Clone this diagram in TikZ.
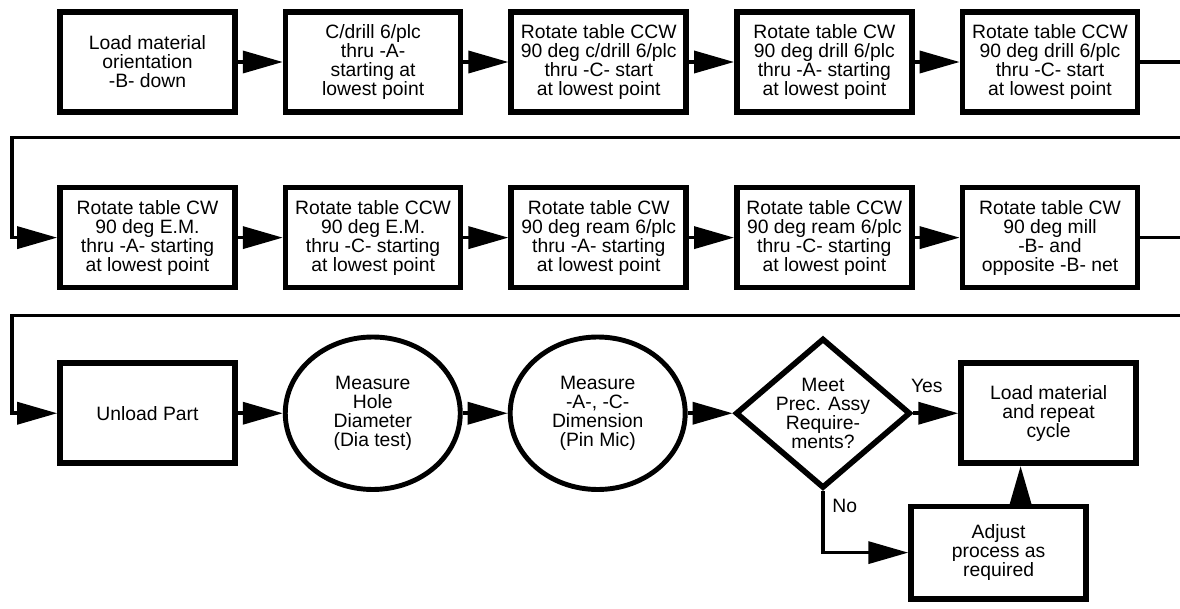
\documentclass[tikz,border=0pt]{standalone}
\usepackage{fontspec}
\setmainfont{Liberation Sans}
\usetikzlibrary{arrows.meta,positioning,shapes.geometric,calc}

\begin{document}
\begin{tikzpicture}[
        node distance=0.9cm,
        >={Triangle[length=8mm,width=4.4mm]},
        every node/.style={font=\fontsize{11}{10.8}\selectfont},
        stage/.style={
            draw=black,
            line width=3.2pt,
            align=center,
            minimum width=3.5cm,
            minimum height=2cm,
            inner sep=2pt,
            fill=white
        },
        measure/.style={
            ellipse,
            draw=black,
            line width=2.8pt,
            align=center,
            minimum width=3.5cm,
            minimum height=3.05cm,
            inner sep=0pt
        },
        check/.style={
            diamond,
            draw=black,
            line width=3.2pt,
            align=center,
            aspect=1.19,
            minimum width=3.5cm,
            minimum height=3cm,
            inner sep=-2pt
        },
        arrow/.style={->, line width=2pt, draw=black}
    ]
        \useasboundingbox (0,0) rectangle (23.6,-12.18);

        % row 1
        \node[stage] (b1) at (2.95,-1.24) {Load material\\orientation\\-B- down};
        \node[stage, right=of b1] (b2) {C/drill 6/plc\\thru -A-\\starting at\\lowest point};
        \node[stage, right=of b2] (b3) {Rotate table CCW\\90 deg c/drill 6/plc\\thru -C- start\\at lowest point};
        \node[stage, right=of b3] (b4) {Rotate table CW\\90 deg drill 6/plc\\thru -A- starting\\at lowest point};
        \node[stage, right=of b4] (b5) {Rotate table CCW\\90 deg drill 6/plc\\thru -C- start\\at lowest point};

        % row 2
        \node[stage, below=1.4cm of b1] (b6) {Rotate table CW\\90 deg E.M.\\thru -A- starting\\at lowest point};
        \node[stage, right=of b6] (b7) {Rotate table CCW\\90 deg E.M.\\thru -C- starting\\at lowest point};
        \node[stage, right=of b7] (b8) {Rotate table CW\\90 deg ream 6/plc\\thru -A- starting\\at lowest point};
        \node[stage, right=of b8] (b9) {Rotate table CCW\\90 deg ream 6/plc\\thru -C- starting\\at lowest point};
        \node[stage, right=of b9] (b10) {Rotate table CW\\90 deg mill\\-B- and\\opposite -B- net};

        % row 3
        \node[stage, below=1.4cm of b6] (unload) {Unload Part};
        \node[measure, right=of unload] (hole) {Measure\\Hole\\Diameter\\(Dia test)};
        \node[measure, right=of hole] (dim) {Measure\\-A-, -C-\\Dimension\\(Pin Mic)};
        \node[check, right=of dim] (meet) {Meet\\Prec. Assy\\Require-\\ments?};
        \node[stage, right=of meet] (reload) {Load material\\and repeat\\cycle};
        \node[stage, minimum height=1.85cm, below=0.75cm of reload, xshift=-1cm] (adjust) {Adjust\\process as\\required};

        \coordinate (gap1) at ([yshift=-0.45cm]b1.south);
        \coordinate (gap2) at ([yshift=-0.5cm]b6.south);
        \coordinate (left1) at ([xshift=-0.9cm]b6.west);
        \coordinate (left2) at ([xshift=-0.9cm]unload.west);
        \coordinate (up) at ([xshift=0.44cm]adjust.north);

        \draw[arrow] (b1) -- (b2);
        \draw[arrow] (b2) -- (b3);
        \draw[arrow] (b3) -- (b4);
        \draw[arrow] (b4) -- (b5);
        \draw[arrow] (b5.east) -- ++(1.2,0) |- (left1 |- gap1) |- (b6.west);

        \draw[arrow] (b6) -- (b7);
        \draw[arrow] (b7) -- (b8);
        \draw[arrow] (b8) -- (b9);
        \draw[arrow] (b9) -- (b10);
        \draw[arrow] (b10.east) -- ++(1.2,0) |- (left2 |- gap2) |- (unload.west);

        \draw[arrow] (unload) -- (hole);
        \draw[arrow] (hole) -- (dim);
        \draw[arrow] (dim) -- (meet);
        \draw[arrow] (meet.east) -- node[pos=0.3, above=2.5mm] {Yes} (reload.west);
        \draw[arrow] (meet.south) |- node[pos=0.12, right, xshift=1pt] {No} (adjust.west);
        \draw[arrow] (up) -- (up |- reload.south);
    \end{tikzpicture}
\end{document}
